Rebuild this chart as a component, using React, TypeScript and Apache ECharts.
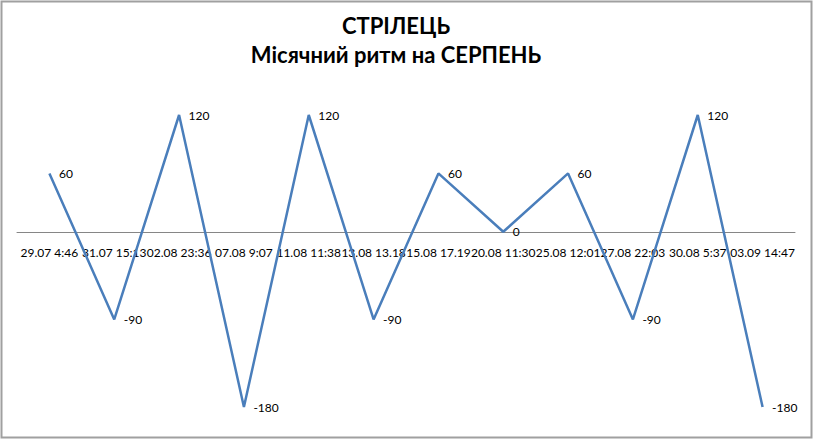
import React, { useEffect, useRef } from 'react';
import * as echarts from 'echarts';

const titleLines = ['СТРІЛЕЦЬ', 'Місячний ритм на СЕРПЕНЬ'];

const categories = [
  '29.07 4:46',
  '31.07 15:13',
  '02.08 23:36',
  '07.08 9:07',
  '11.08 11:38',
  '13.08 13.18',
  '15.08 17.19',
  '20.08 11:30',
  '25.08 12:01',
  '27.08 22:03',
  '30.08 5:37',
  '03.09 14:47',
];

const rhythm = [60, -90, 120, -180, 120, -90, 60, 0, 60, -90, 120, -180];

const FONT = 'Lato, "Open Sans", sans-serif';

const App: React.FC = () => {
  const chartRef = useRef<HTMLDivElement>(null);

  useEffect(() => {
    if (!chartRef.current) return;
    const chart = echarts.init(chartRef.current, undefined, { renderer: 'svg' });

    const option = {
      animation: false,
      backgroundColor: '#ffffff',
      title: {
        text: titleLines.join('\n'),
        left: 396,
        top: 11,
        padding: 0,
        textAlign: 'center',
        textStyle: {
          fontFamily: FONT,
          fontSize: 22,
          fontWeight: 'bold',
          color: '#000000',
          lineHeight: 29,
        },
      },
      graphic: [
        {
          type: 'rect',
          shape: { x: 1.5, y: 1.5, width: 810, height: 436 },
          style: { fill: 'none', stroke: '#a0a0a0', lineWidth: 2 },
          silent: true,
          z: 100,
        },
      ],
      grid: {
        left: 17,
        width: 778,
        top: 115,
        height: 292,
        containLabel: false,
      },
      xAxis: {
        type: 'category',
        data: categories,
        boundaryGap: true,
        axisLine: { onZero: true, lineStyle: { color: '#868686', width: 1 } },
        axisTick: { show: false },
        axisLabel: {
          interval: 0,
          margin: -161,
          fontFamily: FONT,
          fontSize: 12,
          color: '#000000',
          hideOverlap: false,
        },
        splitLine: { show: false },
      },
      yAxis: {
        type: 'value',
        min: -180,
        max: 120,
        show: false,
        splitLine: { show: false },
      },
      series: [
        {
          type: 'line',
          data: rhythm,
          symbol: 'circle',
          symbolSize: 1,
          showSymbol: true,
          itemStyle: { color: 'rgba(0,0,0,0)', borderWidth: 0 },
          lineStyle: { color: '#4a7ebb', width: 2.5 },
          label: {
            show: true,
            position: 'right',
            distance: 9,
            fontFamily: FONT,
            fontSize: 12,
            color: '#000000',
          },
        },
      ],
    };

    chart.setOption(option);
    return () => {
      chart.dispose();
    };
  }, []);

  return (
    <div
      ref={chartRef}
      style={{ position: 'absolute', left: 0, top: 0, width: 834, height: 445 }}
    />
  );
};

export default App;
